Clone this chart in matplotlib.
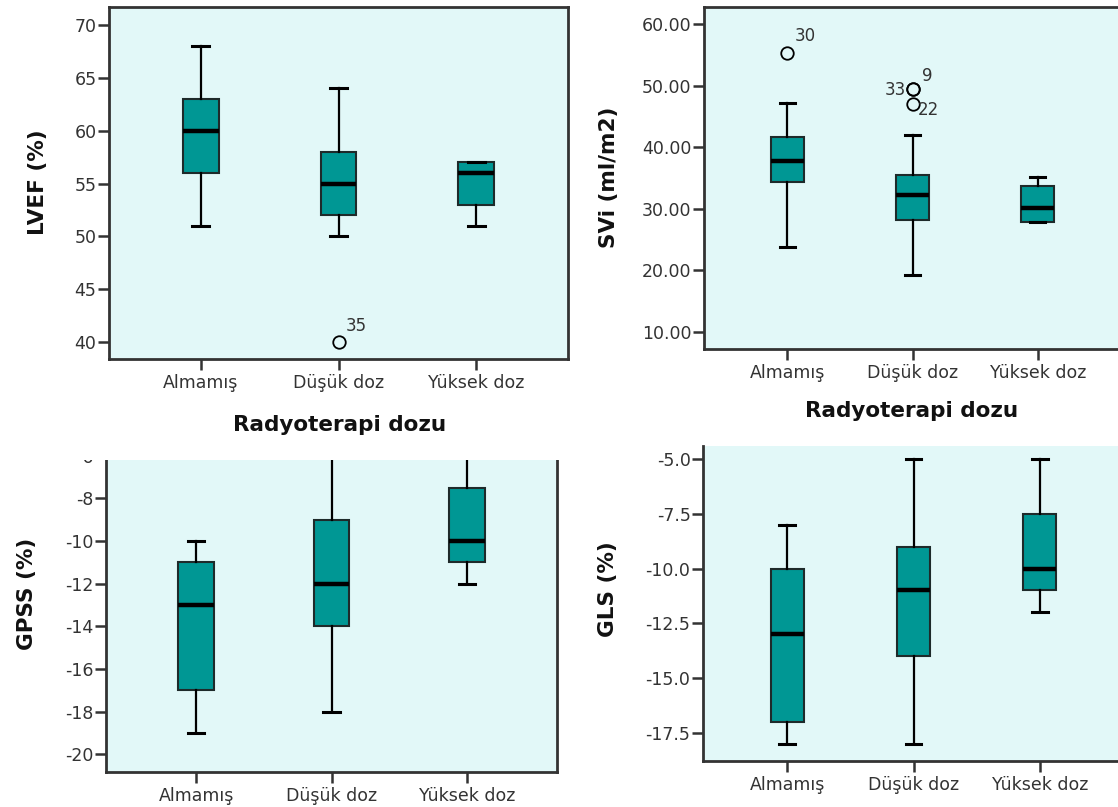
import matplotlib
matplotlib.use('Agg')
import matplotlib.pyplot as plt
from matplotlib.patches import Rectangle
from matplotlib.ticker import FormatStrFormatter

# ---------------- data ----------------
categories = ['Almamış', 'Düşük doz', 'Yüksek doz']
x_title = 'Radyoterapi dozu'

lvef_whislo = [51, 50, 51]
lvef_q1 = [56, 52, 53]
lvef_med = [60, 55, 56]
lvef_q3 = [63, 58, 57]
lvef_whishi = [68, 64, 57]
lvef_outliers = [[], [40], []]
lvef_outlier_ids = [[], ['35'], []]

svi_whislo = [23.8, 19.3, 27.8]
svi_q1 = [34.3, 28.1, 27.9]
svi_med = [37.7, 32.2, 30.2]
svi_q3 = [41.6, 35.5, 33.7]
svi_whishi = [47.2, 42.0, 35.1]
svi_outliers = [[55.4], [49.4, 49.4, 47.0], []]
svi_outlier_ids = [['30'], ['33', '9', '22'], []]

gpss_whislo = [-19, -18, -12]
gpss_q1 = [-17, -14, -11]
gpss_med = [-13, -12, -10]
gpss_q3 = [-11, -9, -7.5]
gpss_whishi = [-10, -5, -5]

gls_whislo = [-18, -18, -12]
gls_q1 = [-17, -14, -11]
gls_med = [-13, -11, -10]
gls_q3 = [-10, -9, -7.5]
gls_whishi = [-8, -5, -5]

lvef_ticks = [40, 45, 50, 55, 60, 65, 70]
svi_ticks = [10, 20, 30, 40, 50, 60]
gpss_ticks = [-20, -18, -16, -14, -12, -10, -8, -6]
gls_ticks = [-17.5, -15.0, -12.5, -10.0, -7.5, -5.0]

# ---------------- style ----------------
BG = '#e2f8f8'
TEAL = '#009794'
DARK = '#333333'
W, H = 1118, 807

plt.rcParams['font.family'] = ['DejaVu Sans']
plt.rcParams['axes.unicode_minus'] = False
fig = plt.figure(figsize=(W / 100, H / 100), dpi=100)


def axes_px(left, top, right, bottom):
    return fig.add_axes([left / W, 1 - bottom / H, (right - left) / W, (bottom - top) / H])


def draw(ax, lo, q1, med, q3, hi, fliers=None):
    if fliers is None:
        fliers = [[] for _ in categories]
    stats = [dict(med=m, q1=a, q3=b, whislo=l, whishi=h, fliers=f, label=c)
             for c, l, a, m, b, h, f in zip(categories, lo, q1, med, q3, hi, fliers)]
    ax.bxp(stats, positions=[1, 2, 3], widths=0.26, capwidths=0.12,
           patch_artist=True,
           boxprops=dict(facecolor=TEAL, edgecolor='#1e2a2a', linewidth=1.5),
           medianprops=dict(color='black', linewidth=3.2, solid_capstyle='butt'),
           whiskerprops=dict(color='black', linewidth=1.6),
           capprops=dict(color='black', linewidth=2.2),
           flierprops=dict(marker='o', markerfacecolor='none', markeredgecolor='black',
                           markersize=9, markeredgewidth=1.3))
    ax.set_facecolor(BG)
    ax.set_xlim(0.335, 3.665)
    for s in ax.spines.values():
        s.set_color(DARK)
        s.set_linewidth(2)
    ax.tick_params(axis='both', direction='out', length=8, width=1.8, color=DARK,
                   labelcolor=DARK, labelsize=12.5)
    ax.tick_params(axis='y', pad=1)
    ax.tick_params(axis='x', pad=3)


def annotate(ax, fliers, ids, offsets):
    k = 0
    for i, (vals, labs) in enumerate(zip(fliers, ids)):
        for v, lab in zip(vals, labs):
            dx, dy, ha = offsets[k]
            ax.annotate(lab, (i + 1, v), xytext=(dx, dy), textcoords='offset points',
                        ha=ha, va='baseline', fontsize=12, color=DARK)
            k += 1


# Panel 1: LVEF
ax1 = axes_px(109, 7, 568, 359)
draw(ax1, lvef_whislo, lvef_q1, lvef_med, lvef_q3, lvef_whishi, lvef_outliers)
ax1.set_ylim(38.4, 71.7)
ax1.set_yticks(lvef_ticks)
annotate(ax1, lvef_outliers, lvef_outlier_ids, [(5, 8, 'left')])

# Panel 2: SVi
ax2 = axes_px(704, 7, 1121, 349)
draw(ax2, svi_whislo, svi_q1, svi_med, svi_q3, svi_whishi, svi_outliers)
ax2.set_ylim(7.2, 62.8)
ax2.set_yticks(svi_ticks)
ax2.yaxis.set_major_formatter(FormatStrFormatter('%.2f'))
annotate(ax2, svi_outliers, svi_outlier_ids,
         [(5, 8, 'left'), (-5, -4, 'right'), (7, 6, 'left'), (4, -8, 'left')])

# Panel 3: GPSS (top cropped)
ax3 = axes_px(106, 445, 557, 772)
draw(ax3, gpss_whislo, gpss_q1, gpss_med, gpss_q3, gpss_whishi)
ax3.set_ylim(-20.83, -5.50)
ax3.set_yticks(gpss_ticks)
ax3.spines['top'].set_visible(False)

# Panel 4: GLS (top cropped)
ax4 = axes_px(703, 446, 1124, 761)
draw(ax4, gls_whislo, gls_q1, gls_med, gls_q3, gls_whishi)
ax4.set_ylim(-18.78, -4.41)
ax4.set_yticks(gls_ticks)
ax4.yaxis.set_major_formatter(FormatStrFormatter('%.1f'))
ax4.spines['top'].set_visible(False)

# crop strip over the top of panel 3
fig.patches.append(Rectangle((0, 1 - 460 / H), 565 / W, 20 / H, transform=fig.transFigure,
                             facecolor='white', edgecolor='none', zorder=10))

# axis titles
lab = dict(fontsize=15.5, fontweight='bold', color='#111111', ha='center', va='center')
fig.text(38 / W, 1 - 182 / H, 'LVEF (%)', rotation=90, **lab)
fig.text(609 / W, 1 - 177 / H, 'SVi (ml/m2)', rotation=90, **lab)
fig.text(27 / W, 1 - 594 / H, 'GPSS (%)', rotation=90, **lab)
fig.text(608 / W, 1 - 589 / H, 'GLS (%)', rotation=90, **lab)
fig.text(340 / W, 1 - 425 / H, x_title, **lab)
fig.text(912 / W, 1 - 411 / H, x_title, **lab)

fig.savefig('out.png', dpi=100, facecolor='white')
